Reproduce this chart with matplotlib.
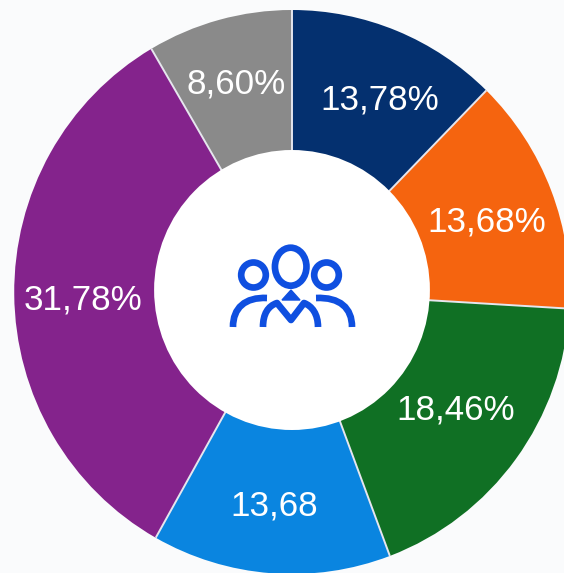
import numpy as np
import matplotlib.pyplot as plt
from matplotlib.patches import Ellipse, Polygon, PathPatch
from matplotlib.path import Path

W, H = 564, 573

# shares as measured from the slice angles, the printed labels differ a bit
labels = ['13,78%', '13,68%', '18,46%', '13,68', '31,78%', '8,60%']
shares = [12.33, 13.61, 18.33, 13.89, 33.39, 8.45]
colors = ['#04306f', '#f5640f', '#107024', '#0a85e0', '#84238c', '#8a8a8a']
label_x = [380, 487, 456, 274, 83, 236]
label_y = [97, 219, 406, 502, 296, 80]

cx, cy = 292, 292
hole_cy = 290
r_out, r_in = 282, 140
sx = 0.985  # the ring in the reference is a little narrower than tall
icon_blue = '#0f4fe0'

plt.rcParams['font.family'] = ['Liberation Sans', 'DejaVu Sans']

fig = plt.figure(figsize=(W / 100, H / 100), dpi=100, facecolor='#fafbfc')
ax = fig.add_axes([0, 0, 1, 1])
ax.axis('off')


def px(x):
    return x / sx + cx - cx / sx


# y axis is flipped, so counterclock=True runs clockwise on screen
ax.pie(shares, colors=colors, center=(cx, cy), radius=r_out, startangle=-90,
       counterclock=True, frame=False,
       wedgeprops=dict(width=r_out - r_in + 4, edgecolor='none', linewidth=0))
ax.set_xlim(px(0), px(W))
ax.set_ylim(H, 0)
ax.set_aspect('auto')

# separators only between slices, no outline round the ring
angles = np.deg2rad(np.cumsum(shares) * 3.6)
for a in angles:
    ax.plot([cx + (r_in - 6) * np.sin(a), cx + r_out * np.sin(a)],
            [cy - (r_in - 6) * np.cos(a), cy - r_out * np.cos(a)],
            color='#e6e6ee', lw=1.4, zorder=2, solid_capstyle='butt')

ax.add_patch(Ellipse((cx, hole_cy), 2 * r_in, 2 * r_in, fc='white', ec='none', zorder=3))

for lab, x, y in zip(labels, label_x, label_y):
    ax.text(px(x), y, lab, color='white', fontsize=25.2,
            ha='center', va='center_baseline', zorder=4)

# people icon, drawn in pixel positions
lw = 4.8


def ring(x, y, w, h):
    ax.add_patch(Ellipse((px(x), y), w, h, fc='none', ec=icon_blue, lw=lw, zorder=5))


def stroke(verts, codes):
    pts = [(px(x), y) for x, y in verts]
    ax.add_patch(PathPatch(Path(pts, codes), fc='none', ec=icon_blue, lw=lw,
                           capstyle='butt', joinstyle='round', zorder=5))


ring(290.7, 266.7, 32, 38)
ring(253.5, 275, 25, 25)
ring(326.5, 275, 25, 25)

C4 = Path.CURVE4
stroke([(233, 327), (233, 308), (245, 297), (267, 298)], [Path.MOVETO, C4, C4, C4])
stroke([(352, 327), (352, 308), (340, 297), (316, 298)], [Path.MOVETO, C4, C4, C4])
stroke([(263, 327), (263, 314), (268, 306), (277, 303), (291, 320), (304, 303),
        (312, 306), (318, 314), (318, 327)],
       [Path.MOVETO, C4, C4, C4, Path.LINETO, Path.LINETO, C4, C4, C4])
ax.add_patch(Polygon([(px(282), 300), (px(300), 300), (px(291), 290)],
                     fc=icon_blue, ec=icon_blue, lw=1, zorder=5))

fig.savefig('out.png', dpi=100, facecolor=fig.get_facecolor())
